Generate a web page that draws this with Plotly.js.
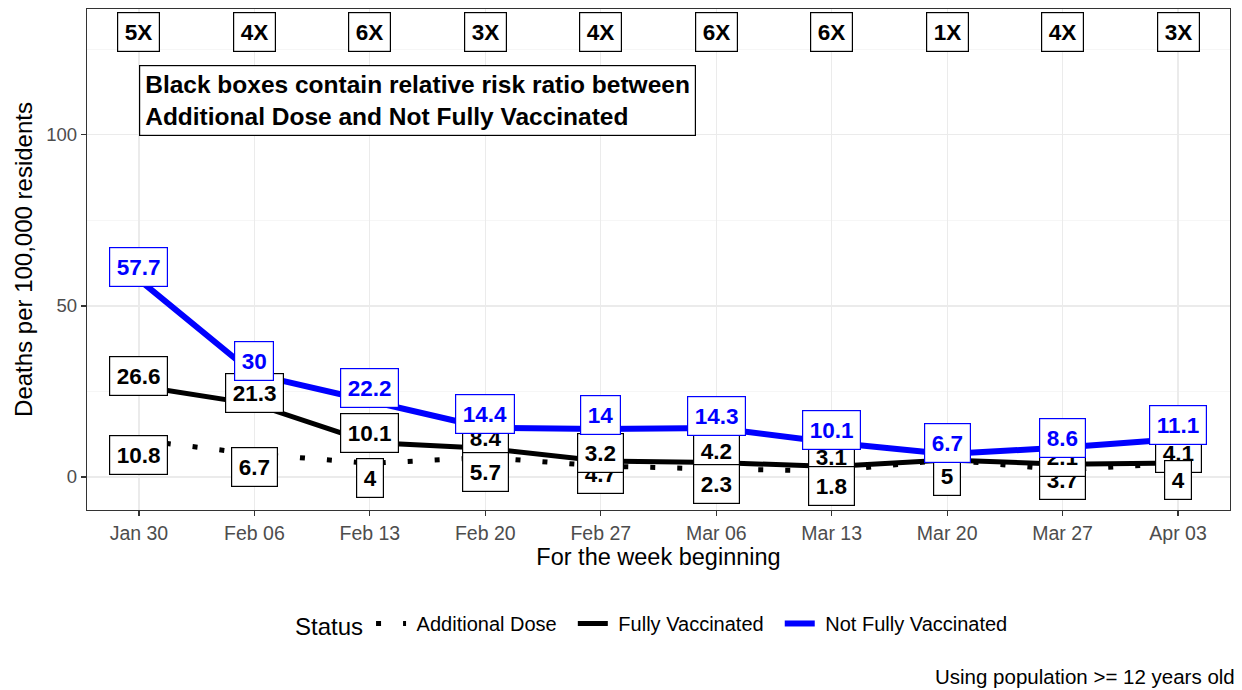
<!DOCTYPE html>
<html>
<head>
<meta charset="utf-8">
<script src="https://cdn.plot.ly/plotly-3.0.1.min.js"></script>
<style>html,body{margin:0;padding:0;background:#fff;}#chart{width:1242px;height:690px;}</style>
</head>
<body>
<div id="chart"></div>
<script>
// ---- data ----
var weeks = ['2022-01-30','2022-02-06','2022-02-13','2022-02-20','2022-02-27','2022-03-06','2022-03-13','2022-03-20','2022-03-27','2022-04-03'];
var weekLabels = ['Jan 30','Feb 06','Feb 13','Feb 20','Feb 27','Mar 06','Mar 13','Mar 20','Mar 27','Apr 03'];
var seriesNames = ['Additional Dose', 'Fully Vaccinated', 'Not Fully Vaccinated'];
var additionalDose = [10.8, 6.7, 4, 5.7, 3.2, 2.3, 1.8, 5, 2.1, 4];
var fullyVaccinated = [26.6, 21.3, 10.1, 8.4, 4.7, 4.2, 3.1, 5, 3.7, 4.1];
var notFullyVaccinated = [57.7, 30, 22.2, 14.4, 14, 14.3, 10.1, 6.7, 8.6, 11.1];
var riskRatios = ['5X','4X','6X','3X','4X','6X','6X','1X','4X','3X'];
var ratioRow = 130;
var noteText = 'Black boxes contain relative risk ratio between<br>Additional Dose and Not Fully Vaccinated';
var noteY = 110;

// ---- label placement (pixel nudges, like a repel layout) ----
var shiftFV = [10, 11, 9.5, 10, -13, 11.6, 9.4, 16.8, -15.7, 10];
var shiftAD = [-15, -13, -14.7, -14.5, 13, -15, -15, -16, 13, -16.7];
var shiftNFV = [13, 13, 13, 14, 14, 12, 12.5, 11, 10, 14];

var FONT = 'Liberation Sans, Arial, sans-serif';

function legendName(s){ return '&nbsp;' + s + '&nbsp;&nbsp;'; }

var traces = [
  {x: weeks, y: additionalDose, mode: 'lines', name: legendName(seriesNames[0]),
   line: {color: '#000000', width: 5, dash: '5px,22px'}},
  {x: weeks, y: fullyVaccinated, mode: 'lines', name: legendName(seriesNames[1]),
   line: {color: '#000000', width: 5}},
  {x: weeks, y: notFullyVaccinated, mode: 'lines', name: legendName(seriesNames[2]),
   line: {color: '#0000FF', width: 6}}
];

function fmt(v){ return String(v); }

var annotations = [];
function addLabels(vals, shifts, color){
  for (var i = 0; i < weeks.length; i++){
    annotations.push({
      x: weeks[i], y: vals[i], xref: 'x', yref: 'y', yshift: shifts[i],
      text: '<b>' + fmt(vals[i]) + '</b>', showarrow: false,
      font: {family: FONT, size: 22.5, color: color},
      bgcolor: '#FFFFFF', bordercolor: color, borderwidth: 1.2, borderpad: 6.5,
      xanchor: 'center', yanchor: 'middle'
    });
  }
}
addLabels(fullyVaccinated, shiftFV, '#000000');
addLabels(additionalDose, shiftAD, '#000000');
addLabels(notFullyVaccinated, shiftNFV, '#0000FF');

for (var j = 0; j < weeks.length; j++){
  annotations.push({
    x: weeks[j], y: ratioRow, xref: 'x', yref: 'y',
    text: '<b>' + riskRatios[j] + '</b>', showarrow: false,
    font: {family: FONT, size: 22.5, color: '#000000'},
    bgcolor: '#FFFFFF', bordercolor: '#000000', borderwidth: 1.2, borderpad: 6.5,
    xanchor: 'center', yanchor: 'middle'
  });
}

annotations.push({
  x: weeks[0], y: noteY, xref: 'x', yref: 'y',
  text: '<b>' + noteText + '</b>', showarrow: false, align: 'left',
  font: {family: FONT, size: 24.5, color: '#000000'},
  bgcolor: '#FFFFFF', bordercolor: '#000000', borderwidth: 1.2, borderpad: 5,
  xanchor: 'left', yanchor: 'middle'
});

annotations.push({
  x: 1.006, y: -0.333, xref: 'paper', yref: 'paper',
  text: 'Using population >= 12 years old', showarrow: false,
  font: {family: FONT, size: 20.5, color: '#000000'},
  xanchor: 'right', yanchor: 'middle'
});

var layout = {
  width: 1242, height: 690,
  margin: {l: 87, r: 12, t: 9, b: 180},
  paper_bgcolor: '#FFFFFF', plot_bgcolor: '#FFFFFF',
  font: {family: FONT, color: '#000000'},
  showlegend: true,
  legend: {
    orientation: 'h', x: 0.5, xanchor: 'center', y: -0.2295, yanchor: 'middle',
    title: {text: 'Status', side: 'left', font: {family: FONT, size: 24, color: '#000000'}},
    font: {family: FONT, size: 20, color: '#000000'},
    itemwidth: 30, tracegroupgap: 0
  },
  xaxis: {
    type: 'date',
    range: ['2022-01-26 20:24', '2022-04-06 03:36'],
    tickmode: 'array', tickvals: weeks, ticktext: weekLabels,
    ticks: 'outside', ticklen: 5, tickwidth: 1.2, tickcolor: '#333333',
    tickfont: {family: FONT, size: 19.5, color: '#4D4D4D'},
    showgrid: true, gridcolor: '#EBEBEB', gridwidth: 1.2,
    showline: true, linecolor: '#333333', linewidth: 1.2, mirror: true,
    zeroline: false,
    title: {text: 'For the week beginning', font: {family: FONT, size: 23.5, color: '#000000'}, standoff: 6}
  },
  yaxis: {
    range: [-9.65, 136.8],
    tickmode: 'linear', tick0: 0, dtick: 50,
    ticks: 'outside', ticklen: 5, tickwidth: 1.2, tickcolor: '#333333',
    tickfont: {family: FONT, size: 18.5, color: '#4D4D4D'},
    showgrid: true, gridcolor: '#EBEBEB', gridwidth: 1.2,
    minor: {showgrid: true, dtick: 25, tick0: 0, gridcolor: '#F2F2F2', gridwidth: 0.7, ticks: ''},
    showline: true, linecolor: '#333333', linewidth: 1.2, mirror: true,
    zeroline: false,
    title: {text: 'Deaths per 100,000 residents', font: {family: FONT, size: 24, color: '#000000'}, standoff: 6}
  },
  annotations: annotations
};

Plotly.newPlot('chart', traces, layout, {displayModeBar: false, staticPlot: true});
</script>
</body>
</html>
